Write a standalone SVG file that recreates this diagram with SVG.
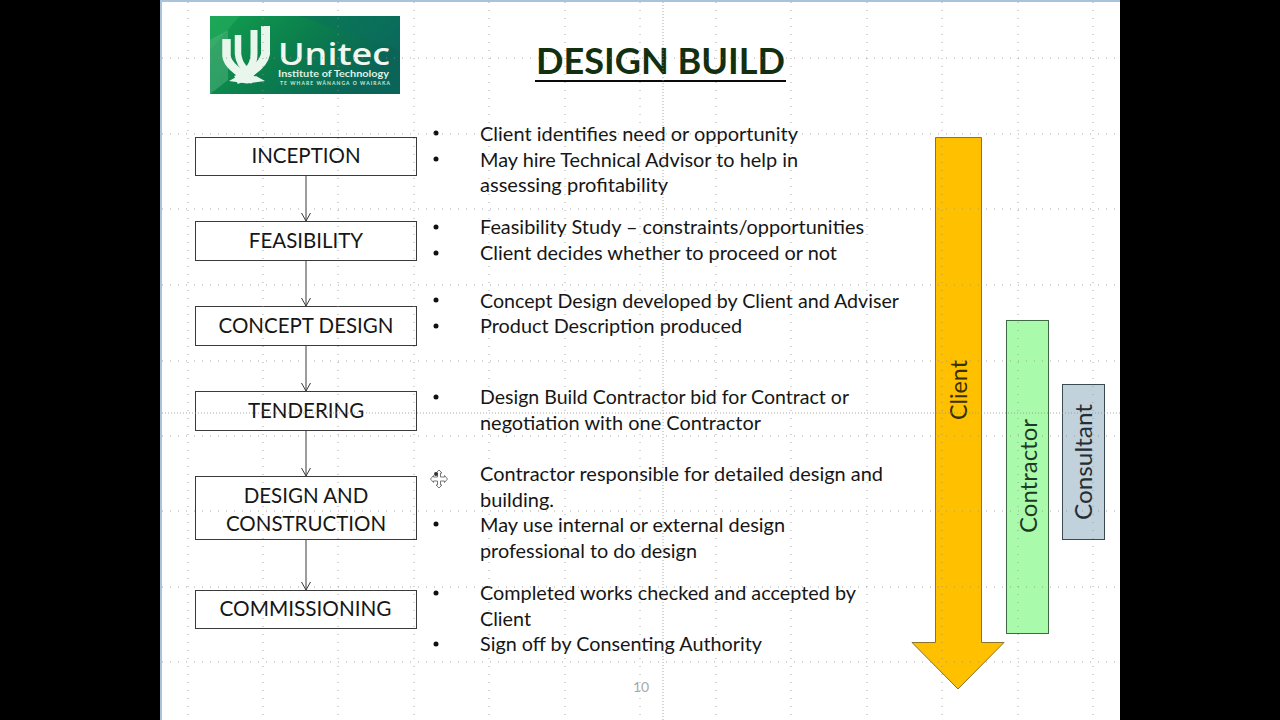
<svg xmlns="http://www.w3.org/2000/svg" width="1280" height="720" viewBox="0 0 1280 720">
<style>
text{font-family:Lato,"Open Sans","Liberation Sans",sans-serif;fill:#161616}
.grid{stroke:#8f8f8f;stroke-width:1;stroke-dasharray:1 7;fill:none;opacity:.75}
.guide{stroke:#8f8f8f;stroke-width:1;stroke-dasharray:1 2;fill:none;opacity:.75}
.box{fill:#fff;stroke:#3a3a3a;stroke-width:1}
.lbl{font-size:20.500px;text-anchor:middle}
.b{font-size:20px}
.dot{fill:#111}
.conn{stroke:#3a3a3a;stroke-width:1;fill:none;marker-end:url(#ah)}
.mark{fill:none;stroke:#e8f6ec;stroke-linecap:butt}
</style>
<defs>
<marker id="ah" markerWidth="12" markerHeight="10" refX="6" refY="9" orient="0" markerUnits="userSpaceOnUse"><path d="M1.500 1L6 9L10.500 1" fill="none" stroke="#3a3a3a"/></marker>
<linearGradient id="lg" x1="0" y1="0" x2="1" y2="0.400"><stop offset="0" stop-color="#12a04f"/><stop offset=".5" stop-color="#0b7f4c"/><stop offset="1" stop-color="#0a6458"/></linearGradient>
</defs>
<rect width="1280" height="720" fill="#000"/>
<rect x="160" width="960" height="720" fill="#fff"/>
<rect x="160" width="960" height="2" fill="#a9c3dc"/>
<rect x="160" width="2" height="720" fill="#a9c3dc"/>
<g id="logo">
<rect x="210" y="16" width="190" height="78" fill="url(#lg)"/>
<path d="M210 16H240L210 50Z" fill="#28b060" opacity=".5"/>
<path d="M210 40L228 30V80L210 94Z" fill="#5cb984" opacity=".45"/>
<path d="M300 16H400V50L340 30Z" fill="#0a6e62" opacity=".45"/>
<path class="mark" stroke-width="8.500" d="M226.500 39V56Q228 68 253 80"/>
<path class="mark" stroke-width="6.500" d="M238 35V54Q239 64 247 71"/>
<path class="mark" stroke-width="7" d="M254 30V54Q254 64 247 71"/>
<path class="mark" stroke-width="9" d="M265.500 26V54Q263 68 236 80"/>
<path d="M229 81L238 76L247 79L256 76L265 81L247 83.500Z" fill="#e8f6ec"/>
<text x="278" y="65" style="font-family:'Open Sans',sans-serif;font-size:31px;font-weight:600;fill:#eef8f0" textLength="112" lengthAdjust="spacingAndGlyphs">Unitec</text>
<text x="278" y="76.500" style="font-size:9.500px;font-weight:700;fill:#dff1e6" textLength="111" lengthAdjust="spacingAndGlyphs">Institute of Technology</text>
<text x="280" y="85" style="font-size:5px;font-weight:700;fill:#cfe8da" textLength="110">TE WHARE WĀNANGA O WAIRAKA</text>
</g>
<g id="title"><text x="536" y="74" style="font-size:37px;font-weight:700;fill:#12300f" textLength="249" lengthAdjust="spacingAndGlyphs">DESIGN BUILD</text>
<rect x="535" y="80" width="251" height="2" fill="#0a0a0a"/></g>
<g id="connectors">
<path class="conn" d="M306 176V221"/>
<path class="conn" d="M306 261V306"/>
<path class="conn" d="M306 346V391"/>
<path class="conn" d="M306 431V476"/>
<path class="conn" d="M306 540V590"/>
</g>
<g id="inception"><rect class="box" x="195.500" y="137.500" width="221" height="38"/><text class="lbl" x="306" y="163">INCEPTION</text></g>
<g id="feasibility"><rect class="box" x="195.500" y="221.500" width="221" height="39"/><text class="lbl" x="306" y="248">FEASIBILITY</text></g>
<g id="concept"><rect class="box" x="195.500" y="306.500" width="221" height="39"/><text class="lbl" x="306" y="333">CONCEPT DESIGN</text></g>
<g id="tendering"><rect class="box" x="195.500" y="391.500" width="221" height="39"/><text class="lbl" x="306" y="418">TENDERING</text></g>
<g id="construction"><rect class="box" x="195.500" y="476.500" width="221" height="63"/><text class="lbl" x="306" y="503">DESIGN AND</text><text class="lbl" x="306" y="531">CONSTRUCTION</text></g>
<g id="commissioning"><rect class="box" x="195.500" y="590.500" width="221" height="38"/><text class="lbl" x="305.500" y="616" textLength="172" lengthAdjust="spacingAndGlyphs">COMMISSIONING</text></g>
<g id="bullets">
<circle class="dot" cx="436" cy="133" r="2.500"/><circle class="dot" cx="436" cy="159" r="2.500"/>
<circle class="dot" cx="436" cy="227" r="2.500"/><circle class="dot" cx="436" cy="253" r="2.500"/>
<circle class="dot" cx="436" cy="300" r="2.500"/><circle class="dot" cx="436" cy="326" r="2.500"/>
<circle class="dot" cx="436" cy="397" r="2.500"/>
<circle class="dot" cx="436" cy="524" r="2.500"/>
<circle class="dot" cx="436" cy="593" r="2.500"/><circle class="dot" cx="436" cy="644" r="2.500"/>
<text class="b" x="480" y="141" textLength="318" lengthAdjust="spacingAndGlyphs">Client identifies need or opportunity</text>
<text class="b" x="480" y="167" textLength="318" lengthAdjust="spacingAndGlyphs">May hire Technical Advisor to help in</text>
<text class="b" x="480" y="192" textLength="188" lengthAdjust="spacingAndGlyphs">assessing profitability</text>
<text class="b" x="480" y="234" textLength="384" lengthAdjust="spacingAndGlyphs">Feasibility Study – constraints/opportunities</text>
<text class="b" x="480" y="260" textLength="357" lengthAdjust="spacingAndGlyphs">Client decides whether to proceed or not</text>
<text class="b" x="480" y="308" textLength="419" lengthAdjust="spacingAndGlyphs">Concept Design developed by Client and Adviser</text>
<text class="b" x="480" y="333" textLength="262" lengthAdjust="spacingAndGlyphs">Product Description produced</text>
<text class="b" x="480" y="404" textLength="369" lengthAdjust="spacingAndGlyphs">Design Build Contractor bid for Contract or</text>
<text class="b" x="480" y="430" textLength="281" lengthAdjust="spacingAndGlyphs">negotiation with one Contractor</text>
<text class="b" x="480" y="481" textLength="403" lengthAdjust="spacingAndGlyphs">Contractor responsible for detailed design and</text>
<text class="b" x="480" y="507" textLength="74" lengthAdjust="spacingAndGlyphs">building.</text>
<text class="b" x="480" y="532" textLength="305" lengthAdjust="spacingAndGlyphs">May use internal or external design</text>
<text class="b" x="480" y="558" textLength="217" lengthAdjust="spacingAndGlyphs">professional to do design</text>
<text class="b" x="480" y="600" textLength="376" lengthAdjust="spacingAndGlyphs">Completed works checked and accepted by</text>
<text class="b" x="480" y="626" textLength="51" lengthAdjust="spacingAndGlyphs">Client</text>
<text class="b" x="480" y="651" textLength="282" lengthAdjust="spacingAndGlyphs">Sign off by Consenting Authority</text>
</g>
<g id="cursor" fill="#fff" stroke="#777" stroke-width="1"><path d="M439 470L442 473H440.500V477H444.500V475.500L447.500 479L444.500 482.500V481H440.500V485H442L439 488L436 485H437.500V481H433.500V482.500L430.500 479L433.500 475.500V477H437.500V473H436Z"/><circle cx="436" cy="474" r="2" fill="#333" stroke="none"/></g>
<text id="page" x="641" y="692" text-anchor="middle" style="font-size:14px;fill:#a8a8a8">10</text>
<g id="client"><path d="M935.500 137.500H981.500V642.500H1004L958 689L912 642.500H935.500Z" fill="#ffc000" stroke="#8a7430"/><text transform="translate(967 420) rotate(-90)" style="font-size:23px;fill:#3a3000" textLength="60" lengthAdjust="spacingAndGlyphs">Client</text></g>
<g id="contractor"><rect x="1006.500" y="320.500" width="42" height="313" fill="#a9fbab" stroke="#3f6a44"/><text transform="translate(1037 533) rotate(-90)" style="font-size:23px;fill:#1f3a24" textLength="114" lengthAdjust="spacingAndGlyphs">Contractor</text></g>
<g id="consultant"><rect x="1062.500" y="384.500" width="42" height="155" fill="#c2d2dc" stroke="#3a4a50"/><text transform="translate(1092 520) rotate(-90)" style="font-size:23px;fill:#222e33" textLength="116" lengthAdjust="spacingAndGlyphs">Consultant</text></g>
<g id="gridlines">
<path class="grid" d="M162 58H1120M162 134H1120M162 209H1120M162 285H1120M162 361H1120M162 436H1120M162 511H1120M162 587H1120M162 662H1120"/>
<path class="grid" d="M188 2V720M263 2V720M338 2V720M414 2V720M489 2V720M565 2V720M640 2V720M716 2V720M791 2V720M867 2V720M942 2V720M1018 2V720M1093 2V720"/>
<path class="guide" d="M162 413H1120M663 2V720"/>
</g>
</svg>
